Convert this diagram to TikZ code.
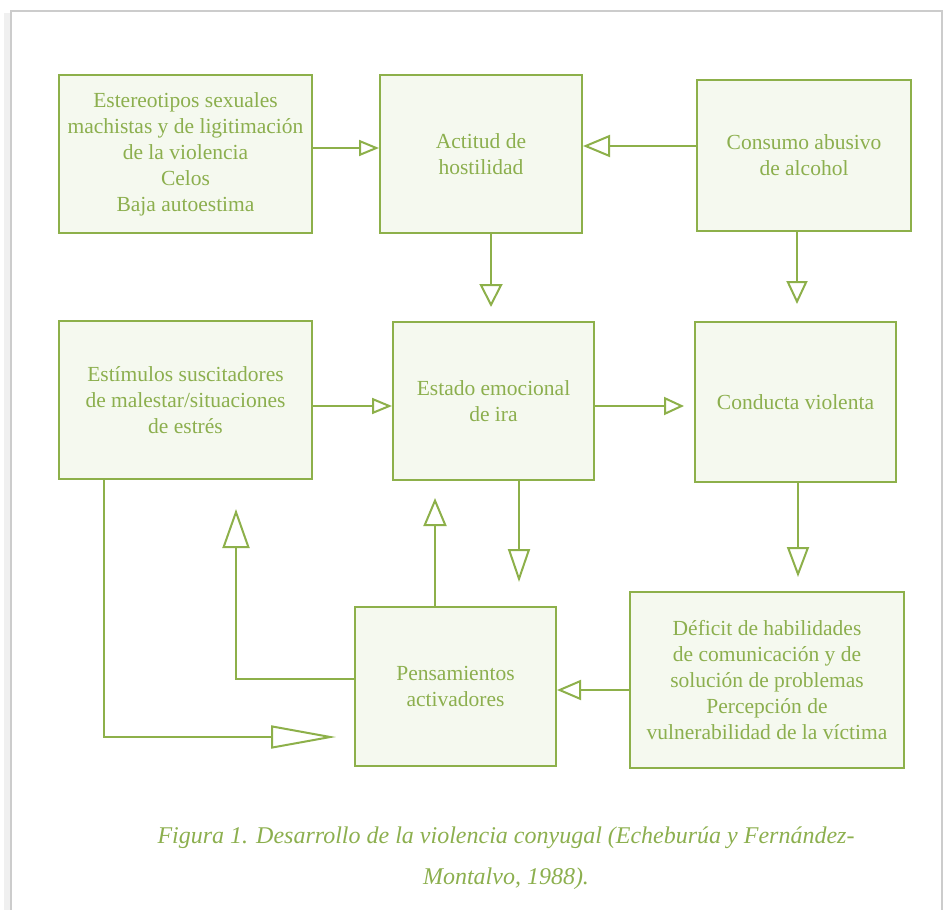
\documentclass[tikz,border=0pt]{standalone}
\usepackage{fontspec}
\setmainfont{LiberationSerif}[Extension=.ttf,UprightFont=*-Regular,ItalicFont=*-Italic,BoldFont=*-Bold,BoldItalicFont=*-BoldItalic]
\usetikzlibrary{arrows.meta}
\definecolor{lineg}{HTML}{8DB04A}
\definecolor{textg}{HTML}{8CAF4E}
\definecolor{fillg}{HTML}{F5F9EF}
\tikzset{every path/.style={lineg,line width=2pt}, box/.style={draw=lineg,fill=fillg,text=textg,align=center,inner sep=0pt,font=\fontsize{21.5}{26}\selectfont}}
\tikzset{arr/.style 2 args={-{Triangle[open,length=#1,width=#2]}}}

\begin{document}
\begin{tikzpicture}[x=1pt,y=-1pt]
  \useasboundingbox (0,0) rectangle (948,910);
  \draw[gray!12,line width=6pt] (7,13) -- (7,915);
  \draw[gray!40,line width=1.5pt] (11,915) -- (11,11) -- (942,11) -- (942,915);
  \node[box,minimum width=253,minimum height=158] (estereo)   at (185.5,154) {Estereotipos sexuales\\machistas y de ligitimación\\de la violencia\\Celos\\Baja autoestima};
  \node[box,minimum width=202,minimum height=158] (actitud)   at (481,154)   {Actitud de\\hostilidad};
  \node[box,minimum width=214,minimum height=151] (consumo)   at (804,155.5) {Consumo abusivo\\de alcohol};
  \node[box,minimum width=253,minimum height=158] (estimulos) at (185.5,400) {Estímulos suscitadores\\de malestar/situaciones\\de estrés};
  \node[box,minimum width=201,minimum height=158] (estado)    at (493.5,401) {Estado emocional\\de ira};
  \node[box,minimum width=201,minimum height=160] (conducta)  at (795.5,402) {Conducta violenta};
  \node[box,minimum width=201,minimum height=159] (pensa)     at (455.5,686.5) {Pensamientos\\activadores};
  \node[box,minimum width=274,minimum height=176] (deficit)   at (767,680)   {Déficit de habilidades\\de comunicación y de\\solución de problemas\\Percepción de\\vulnerabilidad de la víctima};
  \draw[arr={20pt}{16pt}] ([yshift=6pt]estereo.east) -- ([yshift=6pt]actitud.west);
  \draw[arr={27pt}{22pt}] ([yshift=9.5pt]consumo.west) -- ([yshift=8pt]actitud.east);
  \draw[arr={23pt}{23pt},shorten >=14pt] ([xshift=10pt]actitud.south) -- ([xshift=-2.5pt]estado.north);
  \draw[arr={23pt}{21pt},shorten >=17pt] ([xshift=-7pt]consumo.south) -- ([xshift=1.5pt]conducta.north);
  \draw[arr={20pt}{16pt}] ([yshift=-6pt]estimulos.east) -- ([yshift=-5pt]estado.west);
  \draw[arr={20pt}{18pt},shorten >=10pt] ([yshift=-5pt]estado.east) -- ([yshift=-4pt]conducta.west);
  \draw[arr={33pt}{22pt},shorten >=24pt] ([xshift=25.5pt]estado.south) -- ([xshift=63.5pt]pensa.north);
  \draw[arr={30pt}{22pt},shorten >=14pt] ([xshift=2.5pt]conducta.south) -- ([xshift=31pt]deficit.north);
  \draw[arr={28pt}{23pt},shorten >=17pt] ([xshift=-20.5pt]pensa.north) -- ([xshift=-58.5pt]estado.south);
  \draw[arr={39pt}{27pt},shorten >=29pt] ([yshift=7.5pt]pensa.west) -| ([xshift=50.5pt]estimulos.south);
  \draw[arr={65pt}{23pt},shorten >=18pt] ([xshift=-81.5pt]estimulos.south) |- ([yshift=-50.5pt]pensa.west);
  \draw[arr={24pt}{20pt}] ([yshift=-10pt]deficit.west) -- ([yshift=-3.5pt]pensa.east);
  \node[text=textg,align=center,font=\fontsize{24}{41}\selectfont\itshape] (caption) at (506,858) {Figura 1. Desarrollo de la violencia conyugal (Echeburúa y Fernández-\\Montalvo, 1988).};
\end{tikzpicture}
\end{document}
